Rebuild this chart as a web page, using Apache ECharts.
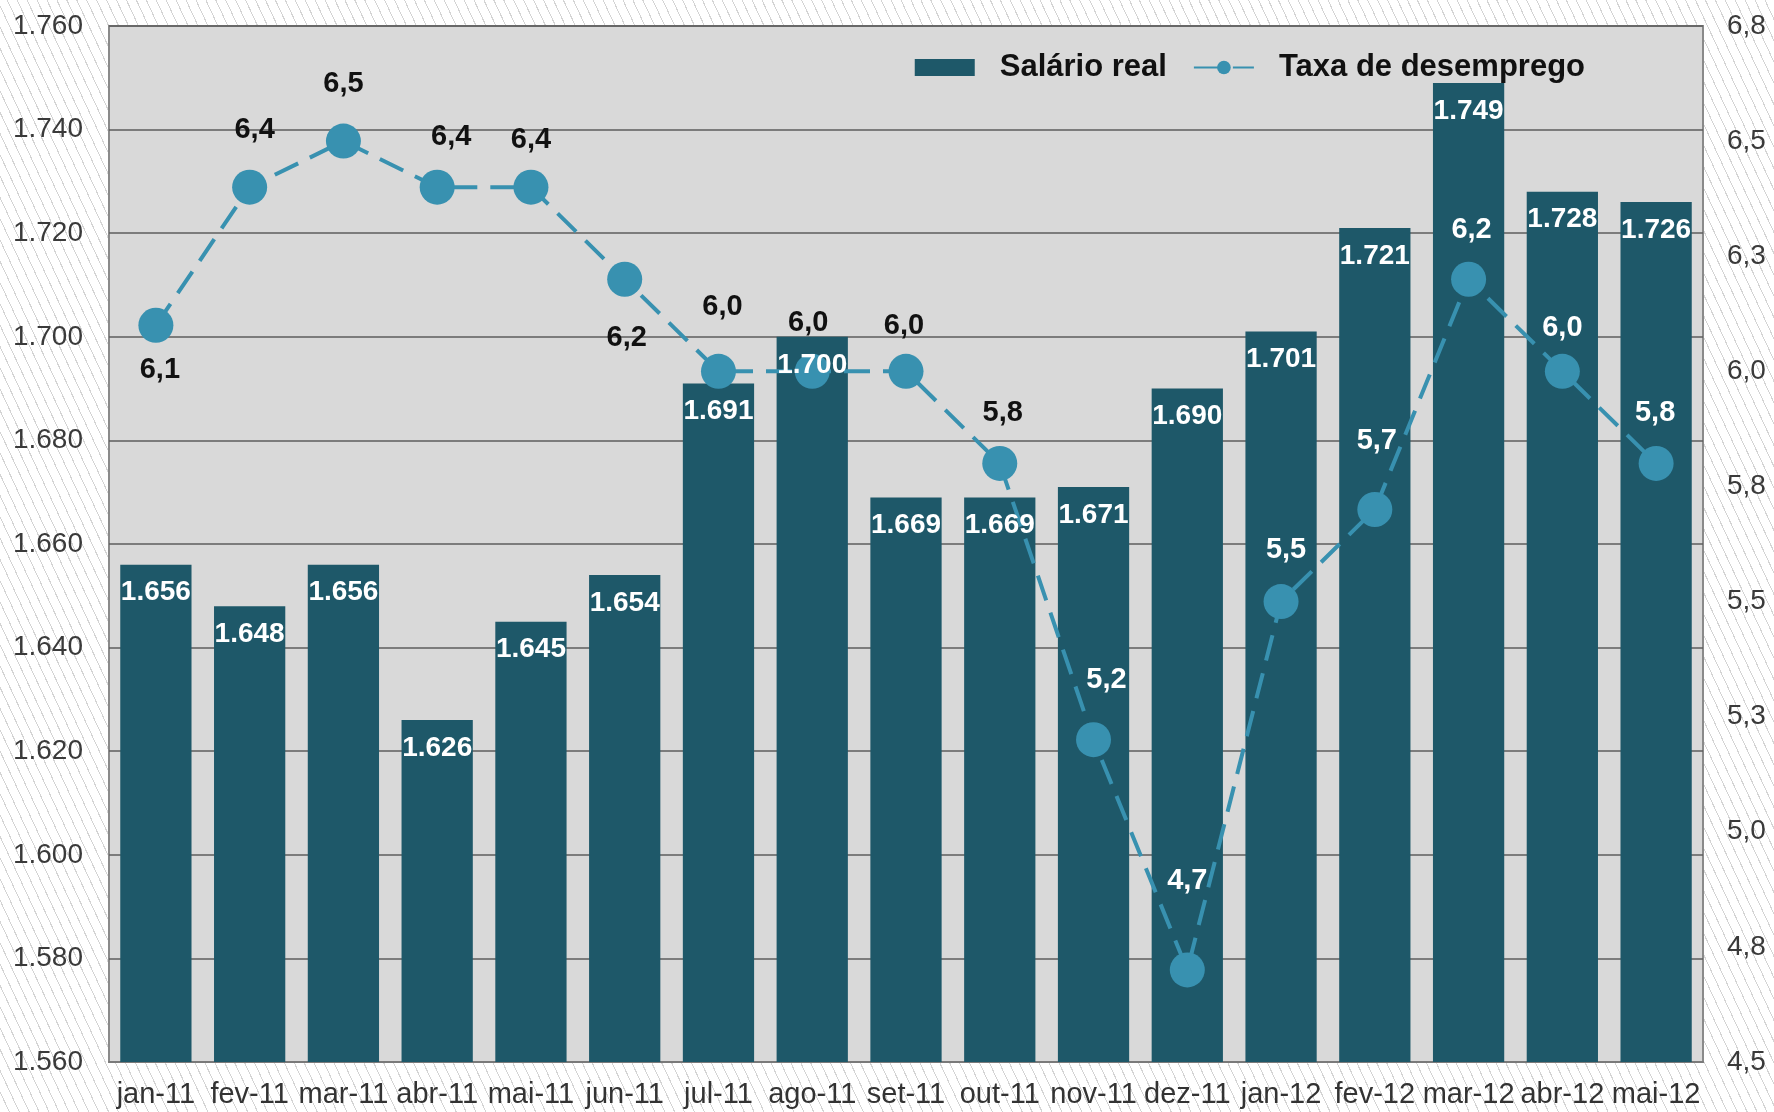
<!DOCTYPE html>
<html>
<head>
<meta charset="utf-8">
<script src="https://cdn.jsdelivr.net/npm/echarts@6/dist/echarts.min.js"></script>
<style>
html,body{margin:0;padding:0;width:1774px;height:1112px;overflow:hidden;}
body{background:#fff repeating-linear-gradient(65deg,#ffffff 0px,#ffffff 8px,#d4d4d4 8px,#d4d4d4 9px);}
#chart{width:1774px;height:1112px;}
</style>
</head>
<body>
<div id="chart"></div>
<script>
const categories = ['jan-11','fev-11','mar-11','abr-11','mai-11','jun-11','jul-11','ago-11','set-11','out-11','nov-11','dez-11','jan-12','fev-12','mar-12','abr-12','mai-12'];
const salarioReal = [1656,1648,1656,1626,1645,1654,1691,1700,1669,1669,1671,1690,1701,1721,1749,1728,1726];
const taxaDesemprego = [6.1,6.4,6.5,6.4,6.4,6.2,6.0,6.0,6.0,5.8,5.2,4.7,5.5,5.7,6.2,6.0,5.8];
const leftTicks = [1560,1580,1600,1620,1640,1660,1680,1700,1720,1740,1760];
const leftTickLabels = ['1.560','1.580','1.600','1.620','1.640','1.660','1.680','1.700','1.720','1.740','1.760'];
const rightTicks = [4.5,4.75,5.0,5.25,5.5,5.75,6.0,6.25,6.5,6.75];
const rightTickLabels = ['4,5','4,8','5,0','5,3','5,5','5,8','6,0','6,3','6,5','6,8'];

// label placement styling for the line labels (style only)
const lineLabelStyle = [
  {pos:'bottom',dist:13,dx:4,color:'#111'},
  {pos:'top',dist:25,dx:5,color:'#111'},
  {pos:'top',dist:25,dx:0,color:'#111'},
  {pos:'top',dist:18,dx:14,color:'#111'},
  {pos:'top',dist:15,dx:0,color:'#111'},
  {pos:'bottom',dist:27,dx:2,color:'#111'},
  {pos:'top',dist:32,dx:4,color:'#111'},
  {pos:'top',dist:16,dx:-4,color:'#111'},
  {pos:'top',dist:13,dx:-2,color:'#111'},
  {pos:'top',dist:18,dx:3,color:'#111'},
  {pos:'top',dist:28,dx:13,color:'#fff'},
  {pos:'top',dist:57,dx:0,color:'#fff'},
  {pos:'top',dist:20,dx:5,color:'#fff'},
  {pos:'top',dist:36,dx:2,color:'#fff'},
  {pos:'top',dist:17,dx:3,color:'#fff'},
  {pos:'top',dist:11,dx:0,color:'#fff'},
  {pos:'top',dist:18,dx:-1,color:'#fff'}
];

const fmtThousands = v => {
  const i = leftTicks.indexOf(v);
  if (i >= 0) return leftTickLabels[i];
  return String(v).replace(/\B(?=(\d{3})+(?!\d))/g, '.');
};
const fmtDec = v => v.toFixed(1).replace('.', ',');

const chart = echarts.init(document.getElementById('chart'), null, {renderer:'canvas'});
const FONT = 'Liberation Sans, Arial, sans-serif';

const barLabel = {
  show: true, position: 'insideTop', distance: 14,
  fontFamily: FONT, fontSize: 28, fontWeight: 'bold', color: '#ffffff',
  formatter: p => fmtThousands(p.value)
};

chart.setOption({
  animation: false,
  backgroundColor: 'transparent',
  textStyle: {fontFamily: FONT},
  grid: {
    left: 109, right: 71, top: 26, bottom: 50,
    show: true, backgroundColor: '#d9d9d9', borderColor: '#8a8a8a', borderWidth: 2,
    containLabel: false
  },
  legend: {
    right: 184, top: 47,
    itemWidth: 60, itemHeight: 17, itemGap: 26,
    textStyle: {fontFamily: FONT, fontSize: 31, fontWeight: 'bold', color: '#111', padding: [0,0,0,20]},
    data: [
      {name: 'Salário real', icon: 'rect'},
      {name: 'Taxa de desemprego'}
    ]
  },
  xAxis: {
    type: 'category',
    data: categories,
    axisLine: {show: true, lineStyle: {color: '#7a7a7a', width: 2}},
    axisTick: {show: false},
    axisLabel: {fontFamily: FONT, fontSize: 29, color: '#333', margin: 18, interval: 0}
  },
  yAxis: [
    {
      type: 'value', min: 1560, max: 1760, interval: 20,
      axisLine: {show: false}, axisTick: {show: false},
      axisLabel: {fontFamily: FONT, fontSize: 28, color: '#3a3a3a', margin: 26, formatter: fmtThousands},
      splitLine: {show: true, lineStyle: {color: '#5c5c5c', width: 1.5}}
    },
    {
      type: 'value', min: 4.5, max: 6.75, interval: 0.25,
      axisLine: {show: false}, axisTick: {show: false},
      axisLabel: {fontFamily: FONT, fontSize: 28, color: '#3a3a3a', margin: 24,
        formatter: v => { const i = rightTicks.findIndex(t => Math.abs(t - v) < 1e-6); return i >= 0 ? rightTickLabels[i] : fmtDec(v); }},
      splitLine: {show: false}
    }
  ],
  series: [
    {
      name: 'Salário real',
      type: 'bar',
      yAxisIndex: 0,
      data: salarioReal,
      barCategoryGap: '24%',
      itemStyle: {color: '#1e5869'},
      z: 2,
      label: {show: false}
    },
    {
      name: 'Taxa de desemprego',
      type: 'line',
      yAxisIndex: 1,
      data: taxaDesemprego.map((v, i) => ({
        value: v,
        label: {
          position: lineLabelStyle[i].pos,
          distance: lineLabelStyle[i].dist,
          offset: [lineLabelStyle[i].dx, 0],
          color: lineLabelStyle[i].color
        }
      })),
      symbol: 'circle',
      symbolSize: 35,
      itemStyle: {color: '#3891b0'},
      lineStyle: {color: '#3891b0', width: 4, type: [26, 13]},
      z: 3,
      label: {
        show: true,
        fontFamily: FONT, fontSize: 29, fontWeight: 'bold',
        formatter: p => fmtDec(p.value)
      }
    },
    {
      name: 'Salário real (rótulos)',
      type: 'bar',
      yAxisIndex: 0,
      data: salarioReal,
      barCategoryGap: '24%',
      barGap: '-100%',
      itemStyle: {color: 'rgba(0,0,0,0)'},
      silent: true,
      z: 5,
      label: barLabel
    }
  ]
});
</script>
</body>
</html>
